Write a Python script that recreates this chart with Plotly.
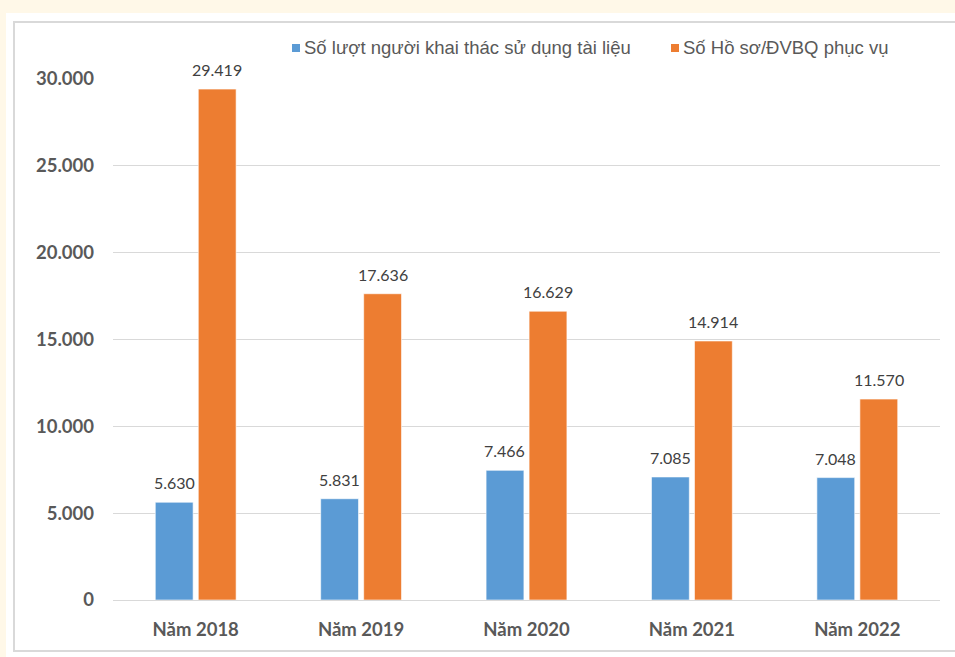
import plotly.graph_objects as go

# Data
categories = ["Năm 2018", "Năm 2019", "Năm 2020", "Năm 2021", "Năm 2022"]
luot_khai_thac = [5630, 5831, 7466, 7085, 7048]
ho_so_phuc_vu = [29419, 17636, 16629, 14914, 11570]
series_names = ["Số lượt người khai thác sử dụng tài liệu", "Số Hồ sơ/ĐVBQ phục vụ"]
tick_values = [0, 5000, 10000, 15000, 20000, 25000, 30000]

BLUE = "#5B9BD5"
ORANGE = "#ED7D31"
TEXT = "#595959"

W, H = 955, 657
L, R, T, B = 113, 15, 79, 57
pw, ph = W - L - R, H - T - B


def px_x(p):
    return (p - L) / pw


def px_y(p):
    return (H - B - p) / ph


fig = go.Figure()
for name, vals, col in [(series_names[0], luot_khai_thac, BLUE),
                        (series_names[1], ho_so_phuc_vu, ORANGE)]:
    fig.add_trace(go.Bar(
        x=categories, y=vals, name=name,
        marker=dict(color=col, line=dict(color="rgba(255,255,255,0.6)", width=1)),
        hoverinfo="x+y", showlegend=False,
    ))

# Value labels above each bar
slot = pw / len(categories) * (1 - 0.48) / 2
for i, cat in enumerate(categories):
    for vals, sign in [(luot_khai_thac, -1), (ho_so_phuc_vu, 1)]:
        fig.add_annotation(
            x=cat, y=vals[i], xref="x", yref="y",
            text=f"{vals[i]:,}".replace(",", "."),
            showarrow=False, yanchor="bottom", xanchor="center",
            xshift=sign * slot / 2, yshift=8,
            font=dict(family="Lato", size=16, color="#404040"),
        )

shapes = [
    # white chart panel
    dict(type="rect", xref="paper", yref="paper", layer="below",
         x0=px_x(6), x1=px_x(W + 5), y0=px_y(H + 5), y1=px_y(13),
         fillcolor="white", line=dict(width=0)),
    # panel border
    dict(type="rect", xref="paper", yref="paper", layer="below",
         x0=px_x(14), x1=px_x(W + 5), y0=px_y(651), y1=px_y(22),
         fillcolor="rgba(0,0,0,0)", line=dict(color="#D9D9D9", width=2)),
]

# Legend: small colour squares followed by series names
legend_items = [(292, series_names[0], BLUE), (671, series_names[1], ORANGE)]
for x0, name, col in legend_items:
    shapes.append(dict(type="rect", xref="paper", yref="paper",
                       x0=px_x(x0), x1=px_x(x0 + 8), y0=px_y(52), y1=px_y(44),
                       fillcolor=col, line=dict(width=0)))
    fig.add_annotation(x=px_x(x0 + 10), y=px_y(48), xref="paper", yref="paper",
                       text=name, showarrow=False, xanchor="left", yanchor="middle",
                       font=dict(family="Liberation Sans", size=18.5, color=TEXT))

fig.update_layout(
    width=W, height=H,
    margin=dict(l=L, r=R, t=T, b=B),
    paper_bgcolor="#FFF8E8",
    plot_bgcolor="white",
    separators=",.",
    barmode="group", bargap=0.48, bargroupgap=0.12,
    shapes=shapes,
    showlegend=False,
    xaxis=dict(showgrid=False, showline=False, ticks="",
               tickfont=dict(family="Lato", size=18.5, color=TEXT, weight="bold"),
               ticklabelstandoff=16),
    yaxis=dict(range=[0, 30000], tickvals=tick_values, tickformat=",d",
               showgrid=True, gridcolor="#D9D9D9", gridwidth=1,
               zeroline=True, zerolinecolor="#D9D9D9", zerolinewidth=1,
               showline=False, ticks="",
               tickfont=dict(family="Lato", size=18.5, color=TEXT, weight="bold"),
               ticklabelstandoff=18),
)

fig.write_html("out.html")
